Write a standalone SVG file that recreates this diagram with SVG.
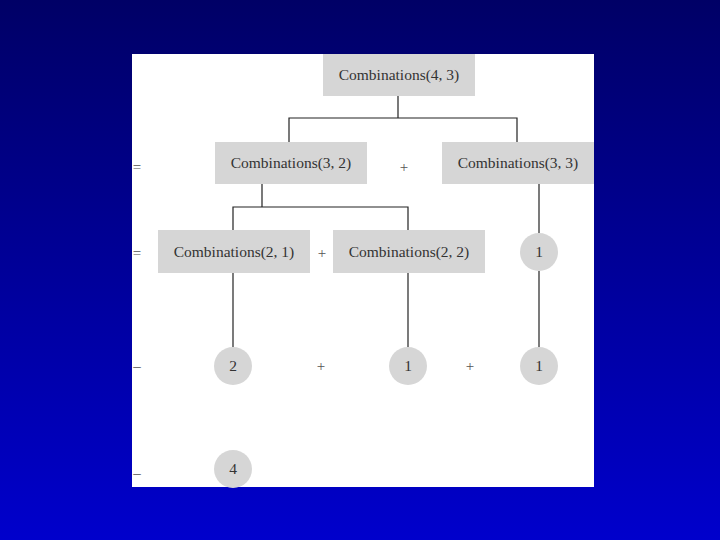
<svg xmlns="http://www.w3.org/2000/svg" width="720" height="540" viewBox="0 0 720 540">
<defs>
<linearGradient id="bg" x1="0" y1="0" x2="0" y2="1">
<stop offset="0" stop-color="#000066"/>
<stop offset="1" stop-color="#0000cc"/>
</linearGradient>
<style>
.box{fill:#d6d6d6}
.t{font-family:"Liberation Serif","Times New Roman",serif;font-size:15.5px;fill:#333;text-anchor:middle}
.op{font-family:"Liberation Serif","Times New Roman",serif;font-size:15px;fill:#555;text-anchor:middle}
.ln{stroke:#222;stroke-width:1.2;fill:none}
</style>
</defs>
<rect width="720" height="540" fill="url(#bg)"/>
<rect x="132" y="54" width="462" height="433" fill="#ffffff"/>
<g id="connectors">
<path class="ln" d="M398,96 V118 M289,142 V118 H517 V142"/>
<path class="ln" d="M262,184 V207 M233,230 V207 H408 V230"/>
<path class="ln" d="M539,184 V233"/>
<path class="ln" d="M233,273 V347"/>
<path class="ln" d="M408,273 V347"/>
<path class="ln" d="M539,271 V347"/>
</g>
<g id="n43"><rect class="box" x="323" y="54" width="152" height="42"/><text class="t" x="399" y="80">Combinations(4, 3)</text></g>
<g id="n32"><rect class="box" x="215" y="142" width="152" height="42"/><text class="t" x="291" y="168">Combinations(3, 2)</text></g>
<g id="n33"><rect class="box" x="442" y="142" width="152" height="42"/><text class="t" x="518" y="168">Combinations(3, 3)</text></g>
<g id="n21"><rect class="box" x="158" y="230" width="152" height="43"/><text class="t" x="234" y="257">Combinations(2, 1)</text></g>
<g id="n22"><rect class="box" x="333" y="230" width="152" height="43"/><text class="t" x="409" y="257">Combinations(2, 2)</text></g>
<g id="c1a"><circle class="box" cx="539" cy="252" r="19"/><text class="t" x="539" y="257">1</text></g>
<g id="c2"><circle class="box" cx="233" cy="366" r="19"/><text class="t" x="233" y="371">2</text></g>
<g id="c1b"><circle class="box" cx="408" cy="366" r="19"/><text class="t" x="408" y="371">1</text></g>
<g id="c1c"><circle class="box" cx="539" cy="366" r="19"/><text class="t" x="539" y="371">1</text></g>
<g id="c4"><circle class="box" cx="233" cy="469" r="19"/><text class="t" x="233" y="474">4</text></g>
<g id="ops">
<text class="op" x="137" y="172">=</text>
<text class="op" x="404" y="172">+</text>
<text class="op" x="137" y="258">=</text>
<text class="op" x="322" y="258">+</text>
<text class="op" x="137" y="371">–</text>
<text class="op" x="321" y="371">+</text>
<text class="op" x="470" y="371">+</text>
<text class="op" x="137" y="478">–</text>
</g>
</svg>
